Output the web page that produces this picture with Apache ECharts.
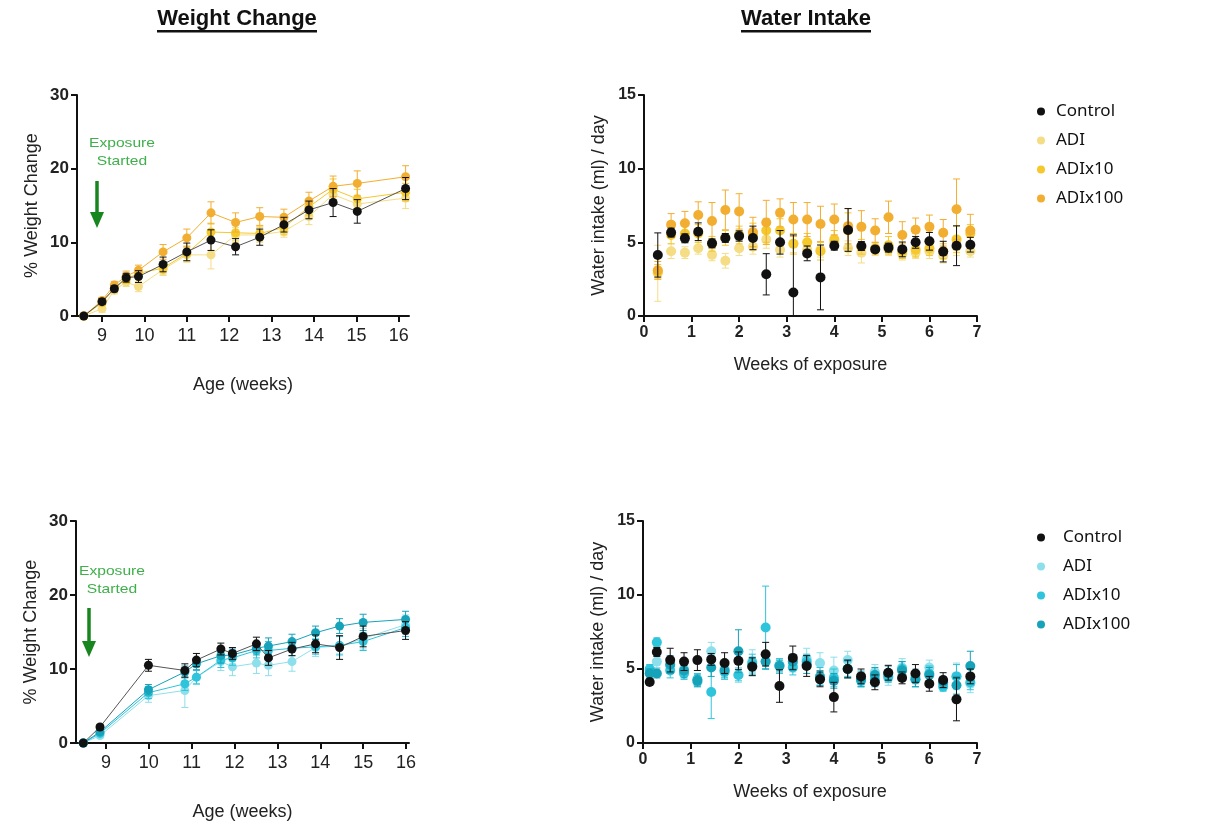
<!DOCTYPE html>
<html><head><meta charset="utf-8">
<script src="https://cdn.jsdelivr.net/npm/echarts@6/dist/echarts.min.js"></script>
<style>html,body{margin:0;padding:0;background:#fff;}#top,#bot{width:1224px;height:419px;}</style>
</head><body><div id="top"></div><div id="bot"></div>
<script>
// ---------- DATA ----------
const seriesNames = ['Control','ADI','ADIx10','ADIx100'];
const weightTicks = [9,10,11,12,13,14,15,16];
const waterXTicks = [0,1,2,3,4,5,6,7];

// Top-left: weight change (yellow set)
const wTopAge = [8.57,9.00,9.29,9.57,9.86,10.44,11.00,11.57,12.15,12.72,13.29,13.88,14.45,15.02,16.16];
const wTopControl = [0,1.95,3.7,5.2,5.35,7.0,8.7,10.3,9.4,10.7,12.4,14.4,15.4,14.2,17.3];
const wTopControlErr = [0,0.4,0.4,0.6,0.8,1.0,1.2,1.4,1.1,1.1,1.0,1.2,1.9,1.6,1.5];
const wTopADI = [0,1.0,3.5,4.6,4.0,6.3,8.3,8.3,11.0,11.0,11.5,13.5,16.5,15.2,16.0];
const wTopADIErr = [0,0.5,0.5,0.6,0.7,0.8,1.0,1.9,1.0,1.0,0.8,1.1,1.3,1.2,1.4];
const wTopADI10 = [0,1.8,3.8,5.0,5.8,6.5,8.5,11.4,11.3,11.2,12.0,14.8,17.2,15.9,16.8];
const wTopADI10Err = [0,0.4,0.5,0.6,0.7,0.8,1.0,1.2,1.1,1.0,1.0,1.1,1.4,1.3,1.2];
const wTopADI100 = [0,2.1,4.2,5.4,6.2,8.7,10.6,14.0,12.7,13.5,13.4,15.6,17.6,18.0,18.9];
const wTopADI100Err = [0,0.4,0.5,0.7,0.7,1.0,1.2,1.5,1.3,1.2,1.1,1.2,1.4,1.7,1.5];

// Top-right: water intake (yellow set)
const wiTopWeeks = [0.29,0.57,0.86,1.14,1.43,1.71,2.00,2.29,2.57,2.86,3.14,3.43,3.71,4.00,4.29,4.57,4.86,5.14,5.43,5.71,6.00,6.29,6.57,6.86];
const wiTopControl = [4.14,5.66,5.27,5.72,4.93,5.3,5.43,5.3,2.83,5.0,1.6,4.25,2.62,4.77,5.84,4.75,4.52,4.64,4.52,5.0,5.07,4.37,4.77,4.84];
const wiTopControlErr = [1.5,0.3,0.3,0.6,0.3,0.3,0.35,0.8,1.4,0.8,3.9,0.5,2.2,0.3,1.45,0.3,0.2,0.3,0.5,0.4,0.6,0.7,1.35,0.5];
const wiTopADI = [2.9,4.4,4.3,4.6,4.15,3.75,4.6,4.7,5.2,4.5,4.9,4.5,4.5,5.0,4.6,4.3,4.5,4.5,4.2,4.3,4.4,4.1,4.7,4.4];
const wiTopADIErr = [1.9,0.5,0.4,0.4,0.4,0.5,0.5,0.5,0.6,0.5,0.6,0.5,0.5,0.5,0.5,0.7,0.4,0.4,0.4,0.4,0.5,0.5,0.6,0.4];
const wiTopADI10 = [3.0,5.5,5.6,5.6,4.9,5.3,5.5,5.5,5.8,5.8,4.9,5.0,4.4,5.2,5.8,4.7,4.6,4.8,4.4,4.5,4.6,4.4,5.2,5.6];
const wiTopADI10Err = [0.5,0.6,0.6,0.6,0.5,0.5,0.6,0.8,0.8,0.8,0.7,0.6,0.6,0.6,1.2,0.5,0.4,0.6,0.5,0.5,0.5,0.5,0.9,0.6];
const wiTopADI100 = [3.1,6.2,6.3,6.85,6.45,7.2,7.1,5.7,6.35,7.0,6.55,6.55,6.25,6.55,6.1,6.05,5.8,6.7,5.5,5.85,6.05,5.65,7.25,5.8];
const wiTopADI100Err = [0.6,0.75,0.8,0.9,1.25,1.35,1.2,1.0,1.5,0.95,1.15,1.15,1.2,1.05,1.2,1.1,0.8,1.1,0.9,0.8,0.8,0.9,2.05,1.1];

// Bottom-left: weight change (cyan set)
const wBotAge = [8.47,8.86,9.99,10.84,11.11,11.68,11.95,12.51,12.79,13.34,13.89,14.45,15.00,15.99];
const wBotControl = [0,2.16,10.5,9.8,11.2,12.7,12.1,13.4,11.5,12.7,13.4,12.9,14.4,15.2];
const wBotControlErr = [0,0.3,0.8,0.9,0.9,0.8,0.8,0.9,1.0,0.9,1.2,1.6,1.4,1.2];
const wBotADI = [0,1.0,6.4,7.1,8.9,11.0,10.3,10.8,10.5,11.0,12.9,13.1,14.1,16.0];
const wBotADIErr = [0,0.3,0.9,2.3,1.0,1.2,1.2,1.4,1.4,1.3,1.2,1.3,1.4,1.3];
const wBotADI10 = [0,1.3,6.8,8.0,8.9,11.2,11.5,12.5,12.5,12.8,13.0,13.2,13.7,15.6];
const wBotADI10Err = [0,0.3,0.8,0.9,0.9,1.0,1.0,1.0,1.2,1.0,1.0,1.2,1.2,1.2];
const wBotADI100 = [0,1.5,7.2,9.6,10.7,11.8,11.9,12.8,13.1,13.7,14.9,15.8,16.3,16.7];
const wBotADI100Err = [0,0.3,0.7,0.8,0.8,1.0,0.8,0.9,1.1,1.0,0.9,1.0,1.1,1.1];

// Bottom-right: water intake (cyan set)
const wiBotWeeks = [0.14,0.29,0.57,0.86,1.14,1.43,1.71,2.00,2.29,2.57,2.86,3.14,3.43,3.71,4.00,4.29,4.57,4.86,5.14,5.43,5.71,6.00,6.29,6.57,6.86];
const wiBotControl = [4.12,6.15,5.6,5.5,5.6,5.65,5.4,5.55,5.15,6.0,3.85,5.75,5.2,4.3,3.1,5.0,4.5,4.1,4.75,4.4,4.7,4.0,4.25,2.95,4.5];
const wiBotControlErr = [0.2,0.3,0.8,0.6,0.7,0.4,0.7,0.6,0.6,0.8,1.1,0.8,0.7,0.5,1.0,0.6,0.5,0.5,0.5,0.4,0.6,0.5,0.5,1.45,0.5];
const wiBotADI = [4.9,5.5,5.2,5.0,4.1,6.2,5.0,4.6,5.5,5.5,5.3,5.3,5.7,5.4,4.9,5.6,4.4,4.8,4.4,5.1,4.5,5.1,4.0,4.5,4.0];
const wiBotADIErr = [0.3,0.4,0.5,0.5,0.3,0.6,0.5,0.5,0.8,0.5,0.4,0.5,0.7,0.7,0.9,0.6,0.5,0.5,0.5,0.6,0.5,0.5,0.3,0.9,0.6];
const wiBotADI10 = [5.0,6.8,4.9,4.7,4.3,3.45,4.8,4.6,5.4,7.8,5.2,5.1,5.5,4.5,4.4,5.0,4.2,4.3,4.5,5.0,4.3,4.7,3.8,4.5,4.1];
const wiBotADI10Err = [0.3,0.3,0.5,0.4,0.4,1.8,0.5,0.4,0.6,2.8,0.5,0.5,0.5,0.6,0.6,0.5,0.4,0.5,0.4,0.5,0.5,0.5,0.3,0.8,0.5];
const wiBotADI100 = [4.7,4.7,5.3,4.9,4.2,5.1,4.9,6.2,5.2,5.5,5.2,5.5,5.3,4.4,4.2,5.0,4.3,4.6,4.7,4.9,4.3,4.6,4.1,3.9,5.2];
const wiBotADI100Err = [0.3,0.3,0.6,0.5,0.4,0.6,0.5,1.45,0.6,0.5,0.4,0.5,0.6,0.5,0.5,0.6,0.5,0.5,0.5,0.6,0.5,0.5,0.4,0.6,1.0];

// ---------- STYLE ----------
const colYellow = {Control:'#111111', ADI:'#F4DD85', ADIx10:'#F5C82C', ADIx100:'#F2AE30'};
const colCyan = {Control:'#111111', ADI:'#8EDFEC', ADIx10:'#2EC4DB', ADIx100:'#16A3BA'};
const FONT = "'Liberation Sans', Arial, sans-serif";

function errSeries(name, color, xs, ys, es, idx, z) {
  return {
    type:'custom', name:name, xAxisIndex:idx, yAxisIndex:idx, z:z, clip:true, silent:true,
    itemStyle:{color:color},
    data: xs.map((x,i)=>[x, ys[i], es[i]]),
    encode:{x:0, y:1},
    renderItem: function(params, api){
      const x = api.value(0), y = api.value(1), e = api.value(2);
      if (!e) return null;
      const t = api.coord([x, y + e]);
      const b = api.coord([x, Math.max(0, y - e)]);
      const cw = 3.5;
      const st = {stroke:color, lineWidth:1};
      return {type:'group', children:[
        {type:'line', shape:{x1:t[0],y1:t[1],x2:b[0],y2:b[1]}, style:st},
        {type:'line', shape:{x1:t[0]-cw,y1:t[1],x2:t[0]+cw,y2:t[1]}, style:st},
        {type:'line', shape:{x1:b[0]-cw,y1:b[1],x2:b[0]+cw,y2:b[1]}, style:st}
      ]};
    }
  };
}
function pointSeries(name, color, xs, ys, idx, withLine, size, z) {
  return {
    type: withLine ? 'line' : 'scatter', name:name, xAxisIndex:idx, yAxisIndex:idx, z:z,
    data: xs.map((x,i)=>[x, ys[i]]),
    symbol:'circle', symbolSize:size, showSymbol:true,
    itemStyle:{color:color, opacity:1},
    lineStyle: withLine ? {color: name==='Control' ? '#555555' : color, width:1} : undefined,
    emphasis:{disabled:true}, animation:false
  };
}
function panelSeries(cols, xs, sets, idx, withLine, size) {
  const out = [];
  const order = ['ADI','ADIx10','ADIx100','Control'];
  order.forEach((n, k) => {
    out.push(errSeries(n, cols[n], xs, sets[n][0], sets[n][1], idx, 2 + k*2));
    out.push(pointSeries(n, cols[n], xs, sets[n][0], idx, withLine, size, 3 + k*2));
  });
  return out;
}
function valueAxisBase() {
  return {
    type:'value', splitLine:{show:false},
    axisLine:{show:true, onZero:false, lineStyle:{color:'#111', width:2}},
    axisTick:{show:true, inside:false, length:6, lineStyle:{color:'#111', width:2}},
    nameTextStyle:{fontFamily:FONT, fontSize:18, color:'#222'},
  };
}
function weightX(idx, min, max) {
  return Object.assign(valueAxisBase(), {
    gridIndex:idx, min:min, max:max,
    axisTick:{show:true, length:6, customValues:weightTicks, lineStyle:{color:'#111', width:2}},
    axisLabel:{customValues:weightTicks, fontFamily:FONT, fontSize:18, color:'#222', margin:11},
    name:'Age (weeks)', nameLocation:'middle', nameGap:60
  });
}
function weightY(idx) {
  return Object.assign(valueAxisBase(), {
    gridIndex:idx, min:0, max:30, interval:10,
    axisLabel:{fontFamily:FONT, fontSize:17, fontWeight:'bold', color:'#222', margin:8},
    name:'% Weight Change', nameLocation:'middle', nameGap:36
  });
}
function waterX(idx) {
  return Object.assign(valueAxisBase(), {
    gridIndex:idx, min:0, max:7, interval:1,
    axisLabel:{fontFamily:FONT, fontSize:16, fontWeight:'bold', color:'#222', margin:9},
    name:'Weeks of exposure', nameLocation:'middle', nameGap:40
  });
}
function waterY(idx) {
  return Object.assign(valueAxisBase(), {
    gridIndex:idx, min:0, max:15, interval:5,
    axisLabel:{fontFamily:FONT, fontSize:16, fontWeight:'bold', color:'#222', margin:8},
    name:'Water intake (ml) / day', nameLocation:'middle', nameGap:36
  });
}
function legendAt(left, top, textPad) {
  return {
    orient:'vertical', left:left, top:top, icon:'circle', itemWidth:8, itemHeight:8, itemGap:12,
    data:seriesNames, selectedMode:false,
    textStyle:{fontFamily:"'Noto Sans', sans-serif", fontSize:17, color:'#111', padding:[0,0,0,textPad]}
  };
}
function exposureGraphic(cx, tY, ax, a1, a2) {
  return [
    {type:'text', x:cx, y:tY, scaleX:1.2, style:{text:'Exposure\nStarted', fill:'#3FAF4B', font:"13px "+FONT, align:'center', verticalAlign:'top', lineHeight:18}},
    {type:'line', shape:{x1:ax, y1:a1, x2:ax, y2:a2-14}, style:{stroke:'#18861E', lineWidth:3.5}},
    {type:'polygon', shape:{points:[[ax-7,a2-16],[ax+7,a2-16],[ax,a2]]}, style:{fill:'#18861E'}}
  ];
}
const TITLE_FONT = "bold 22px 'Liberation Sans', Arial, sans-serif";

// ---------- TOP ROW ----------
const topChart = echarts.init(document.getElementById('top'), null, {renderer:'canvas'});
const topSetsW = {Control:[wTopControl,wTopControlErr], ADI:[wTopADI,wTopADIErr], ADIx10:[wTopADI10,wTopADI10Err], ADIx100:[wTopADI100,wTopADI100Err]};
const topSetsWI = {Control:[wiTopControl,wiTopControlErr], ADI:[wiTopADI,wiTopADIErr], ADIx10:[wiTopADI10,wiTopADI10Err], ADIx100:[wiTopADI100,wiTopADI100Err]};
topChart.setOption({
  animation:false,
  grid:[{left:77, top:95, width:332, height:221}, {left:644, top:95, width:333, height:221}],
  xAxis:[weightX(0, 8.41, 16.24), waterX(1)],
  yAxis:[weightY(0), waterY(1)],
  legend: legendAt(1032, 98, 6),
  graphic:[
    {type:'text', x:237, y:19, style:{text:'Weight Change', fill:'#111', font:TITLE_FONT, align:'center', verticalAlign:'middle'}},
    {type:'rect', shape:{x:157, y:30, width:160, height:2.5}, style:{fill:'#111'}},
    {type:'text', x:806, y:19, style:{text:'Water Intake', fill:'#111', font:TITLE_FONT, align:'center', verticalAlign:'middle'}},
    {type:'rect', shape:{x:741, y:30, width:130, height:2.5}, style:{fill:'#111'}},
    ...exposureGraphic(122, 134, 97, 181, 228)
  ],
  series:[
    ...panelSeries(colYellow, wTopAge, topSetsW, 0, true, 9),
    ...panelSeries(colYellow, wiTopWeeks, topSetsWI, 1, false, 10)
  ]
});

// ---------- BOTTOM ROW ----------
const botChart = echarts.init(document.getElementById('bot'), null, {renderer:'canvas'});
const botSetsW = {Control:[wBotControl,wBotControlErr], ADI:[wBotADI,wBotADIErr], ADIx10:[wBotADI10,wBotADI10Err], ADIx100:[wBotADI100,wBotADI100Err]};
const botSetsWI = {Control:[wiBotControl,wiBotControlErr], ADI:[wiBotADI,wiBotADIErr], ADIx10:[wiBotADI10,wiBotADI10Err], ADIx100:[wiBotADI100,wiBotADI100Err]};
botChart.setOption({
  animation:false,
  grid:[{left:76, top:102, width:333, height:222}, {left:643, top:102, width:334, height:222}],
  xAxis:[weightX(0, 8.30, 16.07), waterX(1)],
  yAxis:[weightY(0), waterY(1)],
  legend: legendAt(1032, 105, 13),
  graphic:[ ...exposureGraphic(112, 143, 89, 189, 238) ],
  series:[
    ...panelSeries(colCyan, wBotAge, botSetsW, 0, true, 9),
    ...panelSeries(colCyan, wiBotWeeks, botSetsWI, 1, false, 10)
  ]
});
</script></body></html>
